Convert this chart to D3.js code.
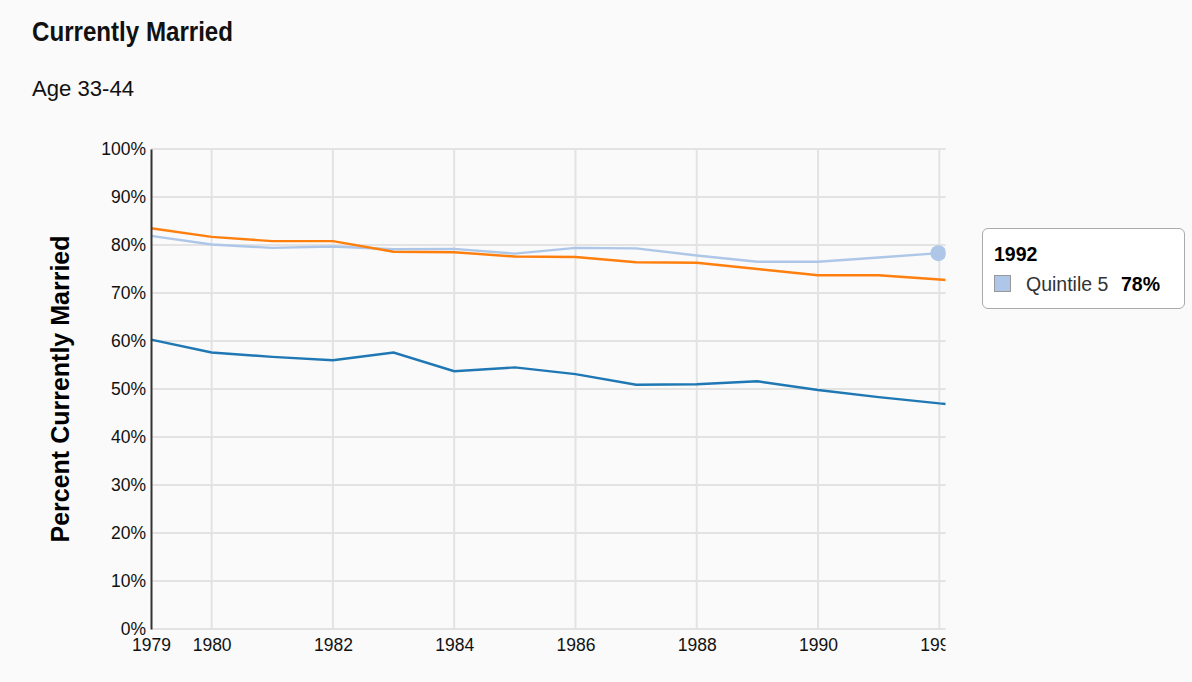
<!DOCTYPE html>
<html>
<head>
<meta charset="utf-8">
<script src="https://cdn.jsdelivr.net/npm/d3@7"></script>
<style>
  html, body { margin: 0; padding: 0; background: #fafafa; }
  body { width: 1192px; height: 682px; position: relative; overflow: hidden; font-family: "Liberation Sans", Arial, sans-serif; }
  #tooltip {
    position: absolute; left: 982px; top: 228px; width: 203px; height: 81px;
    background: #fff; border: 1px solid #aaa; border-radius: 6px; box-sizing: border-box;
  }
  #tooltip div { line-height: 22px; white-space: nowrap; }
  #tooltip .yr { position: absolute; left: 11px; top: 14px; font-weight: bold; font-size: 19.5px; color: #000; }
  #tooltip .sw { position: absolute; left: 11px; top: 46px; width: 17px; height: 17px; background: #aec7e8; border: 1px solid #999; box-sizing: border-box; }
  #tooltip .nm { position: absolute; left: 43px; top: 44px; font-size: 19.5px; color: #333; }
  #tooltip .vl { position: absolute; left: 138px; top: 44px; font-size: 19.5px; font-weight: bold; color: #000; }
</style>
</head>
<body>
<svg id="chart" width="1192" height="682"></svg>
<div id="tooltip">
  <div class="yr"></div>
  <div class="sw"></div>
  <div class="nm"></div>
  <div class="vl"></div>
</div>
<script>
const years = [1979,1980,1981,1982,1983,1984,1985,1986,1987,1988,1989,1990,1991,1992,1993];
const quintile1 = [60.3,57.6,56.7,56.0,57.6,53.7,54.5,53.1,50.9,51.0,51.6,49.8,48.3,47.0,46.0];
const quintile5 = [81.9,80.1,79.4,79.7,79.1,79.2,78.2,79.4,79.3,77.8,76.5,76.5,77.4,78.3,78.6];
const quintile3 = [83.5,81.7,80.8,80.8,78.6,78.5,77.6,77.5,76.4,76.3,75.0,73.7,73.7,72.8,71.9];
const seriesNames = ["Quintile 1","Quintile 5","Quintile 3"];
const seriesColors = ["#1f77b4","#aec7e8","#ff7f0e"];
const xTicks = [1979,1980,1982,1984,1986,1988,1990,1992];
const yTicks = [0,10,20,30,40,50,60,70,80,90,100];
const hoverYear = 1992;
const hoverSeries = 1;

(function () {
const series = [quintile1, quintile5, quintile3].map((vals, i) => ({
  name: seriesNames[i], color: seriesColors[i],
  values: years.map((yr, j) => ({year: yr, v: vals[j]}))
}));

const svg = d3.select("#chart");
const mLeft = 151, mTop = 149, mBottom = 629, clipRight = 945.5;
const pxPerYear = 60.64;
const x = d3.scaleLinear().domain([1979, 1993]).range([mLeft, mLeft + 14 * pxPerYear]);
const y = d3.scaleLinear().domain([0, 100]).range([mBottom, mTop]);

svg.append("defs").append("clipPath").attr("id", "clip")
  .append("rect").attr("x", 0).attr("y", 0).attr("width", clipRight).attr("height", 682);

// Title & subtitle
svg.append("text").attr("x", 32).attr("y", 41)
  .attr("font-family", "'Liberation Sans Narrow', 'Liberation Sans', sans-serif")
  .attr("font-weight", "bold").attr("font-size", 27).attr("fill", "#111")
  .attr("textLength", 201).attr("lengthAdjust", "spacingAndGlyphs")
  .text("Currently Married");
svg.append("text").attr("x", 32).attr("y", 96)
  .attr("font-family", "'Liberation Sans Narrow', 'Liberation Sans', sans-serif")
  .attr("font-size", 22).attr("fill", "#111")
  .attr("textLength", 102).attr("lengthAdjust", "spacingAndGlyphs")
  .text("Age 33-44");

const g = svg.append("g").attr("clip-path", "url(#clip)");

// horizontal grid
g.append("g").selectAll("line").data(yTicks).join("line")
  .attr("x1", mLeft).attr("x2", clipRight + 20)
  .attr("y1", d => y(d)).attr("y2", d => y(d))
  .attr("stroke", "#e3e3e3").attr("stroke-width", 2);

// vertical grid
g.append("g").selectAll("line").data(xTicks.filter(d => d !== 1979)).join("line")
  .attr("x1", d => x(d)).attr("x2", d => x(d))
  .attr("y1", mTop).attr("y2", mBottom)
  .attr("stroke", "#e3e3e3").attr("stroke-width", 2);

// x axis
const xAxis = d3.axisBottom(x).tickValues(xTicks).tickFormat(d3.format("d")).tickSize(0).tickPadding(10);
const xg = g.append("g").attr("transform", `translate(0,${mBottom})`).call(xAxis);
xg.select(".domain").remove();
xg.selectAll("text").attr("font-size", 17.5).attr("fill", "#111")
  .attr("font-family", "'Liberation Sans', Arial, sans-serif");

// y axis
const yAxis = d3.axisLeft(y).tickValues(yTicks).tickFormat(d => d + "%").tickSize(0).tickPadding(5);
const yg = svg.append("g").attr("transform", `translate(${mLeft},0)`).call(yAxis);
yg.select(".domain").attr("stroke", "#333").attr("stroke-width", 2);
yg.selectAll("text").attr("font-size", 17.5).attr("fill", "#111").attr("dy", "0.3em")
  .attr("font-family", "'Liberation Sans', Arial, sans-serif");

// y axis title
svg.append("text")
  .attr("transform", `translate(69,389) rotate(-90)`)
  .attr("text-anchor", "middle")
  .attr("font-family", "'Liberation Sans', Arial, sans-serif")
  .attr("font-weight", "bold").attr("font-size", 25).attr("fill", "#000")
  .text("Percent Currently Married");

// lines
const line = d3.line().x(d => x(d.year)).y(d => y(d.v));
g.append("g").selectAll("path").data(series).join("path")
  .attr("d", d => line(d.values))
  .attr("fill", "none").attr("stroke", d => d.color).attr("stroke-width", 2.4);

// hover dot
const hs = series[hoverSeries];
const hp = hs.values.find(d => d.year === hoverYear);
g.append("circle").attr("cx", x(hp.year) - 1).attr("cy", y(hp.v))
  .attr("r", 8).attr("fill", hs.color);

// tooltip
const tip = d3.select("#tooltip");
tip.select(".yr").text(hoverYear);
tip.select(".nm").text(hs.name);
tip.select(".vl").text(Math.round(hp.v) + "%");
})();
</script>
</body>
</html>
